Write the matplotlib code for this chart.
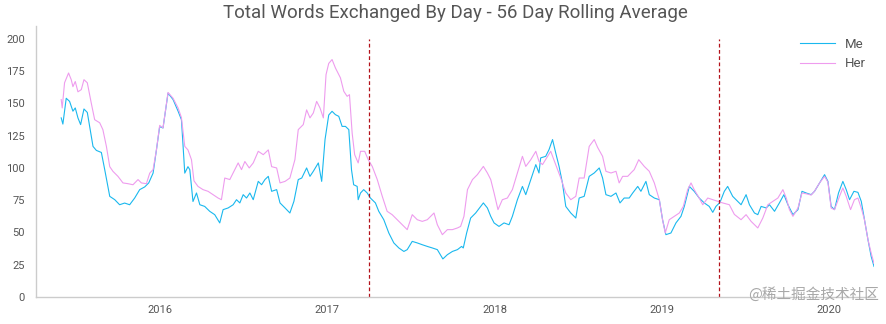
import matplotlib
matplotlib.use("Agg")
import matplotlib.pyplot as plt
import matplotlib.dates as mdates
import pandas as pd

# ---- data (decimal years, 56-day rolling average of words/day) ----
me_t = [2015.411, 2015.421, 2015.441, 2015.461, 2015.481, 2015.495, 2015.511, 2015.527, 2015.547, 2015.567,
        2015.581, 2015.601, 2015.621, 2015.651, 2015.671, 2015.701, 2015.731, 2015.760, 2015.790, 2015.820,
        2015.850, 2015.880, 2015.910, 2015.934, 2015.960, 2015.980, 2016.000, 2016.020, 2016.050, 2016.080,
        2016.110, 2016.130, 2016.150, 2016.169, 2016.180, 2016.199, 2016.220, 2016.240, 2016.269, 2016.299,
        2016.329, 2016.359, 2016.379, 2016.409, 2016.439, 2016.459, 2016.479, 2016.499, 2016.519, 2016.539,
        2016.559, 2016.589, 2016.609, 2016.629, 2016.649, 2016.669, 2016.699, 2016.719, 2016.749, 2016.778,
        2016.802, 2016.828, 2016.849, 2016.878, 2016.898, 2016.918, 2016.948, 2016.968, 2016.988, 2017.008,
        2017.028, 2017.048, 2017.068, 2017.088, 2017.108, 2017.128, 2017.144, 2017.157, 2017.178, 2017.184,
        2017.198, 2017.217, 2017.238, 2017.257, 2017.287, 2017.307, 2017.337, 2017.367, 2017.397, 2017.427,
        2017.457, 2017.477, 2017.507, 2017.537, 2017.567, 2017.597, 2017.627, 2017.657, 2017.690, 2017.717,
        2017.747, 2017.777, 2017.802, 2017.812, 2017.832, 2017.856, 2017.886, 2017.916, 2017.932, 2017.956,
        2017.976, 2017.996, 2018.026, 2018.056, 2018.086, 2018.106, 2018.136, 2018.166, 2018.186, 2018.216,
        2018.246, 2018.265, 2018.275, 2018.305, 2018.325, 2018.346, 2018.365, 2018.385, 2018.405, 2018.425,
        2018.455, 2018.485, 2018.505, 2018.535, 2018.565, 2018.595, 2018.625, 2018.645, 2018.665, 2018.695,
        2018.725, 2018.749, 2018.774, 2018.804, 2018.825, 2018.855, 2018.874, 2018.904, 2018.924, 2018.954,
        2018.984, 2019.004, 2019.024, 2019.054, 2019.084, 2019.114, 2019.134, 2019.164, 2019.193, 2019.223,
        2019.253, 2019.283, 2019.304, 2019.323, 2019.347, 2019.373, 2019.393, 2019.423, 2019.443, 2019.473,
        2019.503, 2019.523, 2019.553, 2019.573, 2019.593, 2019.623, 2019.643, 2019.673, 2019.702, 2019.729,
        2019.753, 2019.783, 2019.813, 2019.837, 2019.862, 2019.892, 2019.912, 2019.942, 2019.972, 2019.992,
        2020.012, 2020.032, 2020.056, 2020.082, 2020.102, 2020.122, 2020.148, 2020.172, 2020.192, 2020.211,
        2020.232, 2020.251, 2020.268]
me_v = [138.8, 134.0, 154.0, 151.6, 144.0, 146.5, 138.8, 133.6, 145.7, 143.0,
        132.0, 116.7, 113.6, 112.0, 98.7, 78.0, 75.4, 71.5, 72.8, 71.5,
        76.7, 83.2, 85.3, 88.4, 96.0, 114.0, 132.0, 131.0, 158.0, 153.0,
        144.0, 137.4, 96.0, 101.0, 98.7, 74.0, 80.6, 71.5, 70.2, 66.4,
        63.8, 57.4, 67.7, 69.0, 71.5, 75.4, 72.9, 79.3, 76.7, 80.6,
        75.4, 89.6, 87.0, 91.0, 93.5, 81.9, 83.2, 72.9, 69.0, 65.1,
        74.1, 91.0, 92.2, 100.0, 93.5, 97.4, 103.9, 89.6, 122.0, 141.0,
        143.9, 141.3, 140.0, 132.2, 132.2, 129.7, 98.7, 87.0, 85.7, 75.4,
        80.6, 83.2, 80.6, 76.7, 72.9, 66.4, 59.9, 49.6, 41.9, 38.0,
        35.3, 36.7, 43.1, 41.9, 40.5, 39.2, 38.0, 36.7, 29.5, 32.8,
        35.3, 36.7, 39.2, 38.0, 49.6, 61.2, 65.1, 70.2, 72.9, 69.0,
        62.5, 57.4, 54.7, 57.4, 56.0, 62.5, 75.4, 85.7, 79.3, 91.0,
        102.6, 96.1, 107.8, 109.0, 114.2, 122.0, 111.6, 101.2, 88.4, 70.2,
        65.1, 61.2, 76.7, 78.0, 93.5, 96.1, 100.0, 92.2, 79.3, 78.0,
        80.6, 72.9, 76.7, 76.7, 80.6, 85.7, 81.9, 89.6, 79.3, 76.7,
        75.4, 59.9, 48.3, 49.6, 57.4, 62.5, 70.2, 85.7, 81.9, 76.7,
        72.9, 70.2, 65.6, 70.2, 73.3, 81.9, 85.7, 78.0, 75.4, 71.5,
        79.3, 71.5, 65.1, 63.8, 70.2, 69.0, 71.5, 66.4, 72.9, 79.3,
        71.5, 63.8, 67.7, 81.9, 80.6, 79.3, 81.9, 88.4, 94.8, 89.6,
        70.2, 67.7, 80.6, 89.6, 83.2, 75.4, 81.9, 81.1, 74.1, 59.9,
        44.4, 31.5, 23.7]

her_t = [2015.411, 2015.417, 2015.431, 2015.455, 2015.471, 2015.481, 2015.495, 2015.511, 2015.531, 2015.547,
         2015.567, 2015.591, 2015.611, 2015.641, 2015.660, 2015.681, 2015.701, 2015.720, 2015.750, 2015.780,
         2015.810, 2015.840, 2015.870, 2015.890, 2015.920, 2015.940, 2015.960, 2015.980, 2016.000, 2016.020,
         2016.050, 2016.080, 2016.110, 2016.130, 2016.150, 2016.169, 2016.190, 2016.205, 2016.229, 2016.259,
         2016.289, 2016.319, 2016.349, 2016.369, 2016.389, 2016.419, 2016.449, 2016.469, 2016.489, 2016.509,
         2016.535, 2016.559, 2016.589, 2016.619, 2016.649, 2016.669, 2016.699, 2016.719, 2016.749, 2016.778,
         2016.808, 2016.828, 2016.858, 2016.878, 2016.898, 2016.918, 2016.938, 2016.958, 2016.978, 2016.994,
         2017.008, 2017.028, 2017.048, 2017.078, 2017.098, 2017.118, 2017.132, 2017.148, 2017.163, 2017.184,
         2017.198, 2017.223, 2017.244, 2017.268, 2017.298, 2017.328, 2017.357, 2017.387, 2017.417, 2017.447,
         2017.477, 2017.507, 2017.537, 2017.567, 2017.597, 2017.637, 2017.657, 2017.687, 2017.717, 2017.747,
         2017.777, 2017.796, 2017.816, 2017.837, 2017.867, 2017.896, 2017.932, 2017.956, 2017.976, 2017.996,
         2018.020, 2018.046, 2018.076, 2018.106, 2018.136, 2018.166, 2018.186, 2018.216, 2018.246, 2018.265,
         2018.286, 2018.316, 2018.335, 2018.365, 2018.395, 2018.425, 2018.455, 2018.485, 2018.505, 2018.535,
         2018.565, 2018.595, 2018.615, 2018.645, 2018.665, 2018.695, 2018.725, 2018.744, 2018.765, 2018.795,
         2018.814, 2018.834, 2018.861, 2018.894, 2018.924, 2018.954, 2018.984, 2019.004, 2019.020, 2019.044,
         2019.074, 2019.104, 2019.128, 2019.154, 2019.174, 2019.193, 2019.223, 2019.244, 2019.274, 2019.304,
         2019.334, 2019.363, 2019.403, 2019.433, 2019.473, 2019.503, 2019.533, 2019.573, 2019.603, 2019.633,
         2019.663, 2019.693, 2019.723, 2019.743, 2019.762, 2019.783, 2019.813, 2019.837, 2019.862, 2019.892,
         2019.912, 2019.942, 2019.972, 2019.992, 2020.012, 2020.032, 2020.062, 2020.082, 2020.102, 2020.128,
         2020.151, 2020.172, 2020.192, 2020.211, 2020.232, 2020.251, 2020.268]
her_v = [153.0, 146.5, 166.0, 173.6, 168.4, 163.0, 167.0, 159.0, 160.7, 168.4,
         166.0, 150.0, 137.4, 135.0, 129.7, 116.7, 101.0, 97.4, 93.5, 88.4,
         87.8, 87.0, 91.0, 88.4, 87.8, 96.0, 98.7, 114.0, 133.0, 131.0,
         158.5, 154.0, 146.5, 139.0, 116.7, 114.0, 106.4, 90.0, 85.7, 83.2,
         81.9, 79.3, 76.7, 75.4, 92.2, 91.0, 98.7, 103.9, 98.7, 105.0,
         100.0, 103.9, 112.9, 110.3, 114.0, 101.0, 100.0, 88.4, 89.6, 92.2,
         106.4, 129.7, 133.6, 145.0, 138.8, 142.6, 151.6, 146.5, 138.8, 172.3,
         181.0, 184.0, 177.5, 169.8, 159.4, 155.5, 156.8, 127.0, 110.3, 103.9,
         112.9, 112.9, 106.4, 101.2, 91.0, 78.0, 66.4, 63.8, 59.9, 56.0,
         52.2, 63.8, 59.9, 58.6, 59.9, 65.1, 56.0, 48.3, 52.2, 52.2,
         53.5, 54.7, 62.5, 83.2, 91.0, 94.8, 101.2, 96.1, 91.0, 80.6,
         67.7, 75.4, 76.7, 83.2, 96.1, 109.0, 101.2, 106.4, 112.9, 105.1,
         102.6, 109.0, 112.9, 102.6, 92.2, 80.6, 75.4, 78.0, 92.2, 92.2,
         116.7, 122.0, 116.0, 109.0, 97.4, 96.1, 97.4, 88.4, 93.5, 93.5,
         96.1, 98.7, 106.4, 101.2, 97.4, 88.4, 75.4, 59.9, 49.6, 59.9,
         62.5, 65.1, 70.2, 83.2, 88.4, 83.2, 76.7, 71.5, 76.7, 75.4,
         74.1, 72.9, 71.5, 64.0, 59.9, 63.8, 58.6, 53.5, 61.2, 71.5,
         74.1, 76.7, 83.2, 76.7, 67.7, 62.5, 69.0, 80.6, 80.0, 79.0,
         82.0, 88.4, 93.5, 89.0, 68.9, 67.7, 78.0, 84.5, 78.0, 67.7,
         75.4, 76.7, 68.9, 59.9, 44.4, 34.1, 26.0]

event_t = [2017.250, 2019.340]
y_ticks = [0, 25, 50, 75, 100, 125, 150, 175, 200]
title = "Total Words Exchanged By Day - 56 Day Rolling Average"


def to_dates(ts):
    out = []
    for t in ts:
        y = int(t)
        out.append(pd.Timestamp(year=y, month=1, day=1) + pd.Timedelta(days=(t - y) * 365.25))
    return pd.DatetimeIndex(out)


me_d = to_dates(me_t)
her_d = to_dates(her_t)
ev_d = to_dates(event_t)

plt.rcParams['font.family'] = ['Roboto', 'Noto Sans CJK SC', 'DejaVu Sans']
TXT = '#555555'

fig = plt.figure(figsize=(8.86, 3.24), dpi=100)
ax = fig.add_axes([36 / 886, 27 / 324, (874 - 36) / 886, (297 - 26) / 324])

ax.plot(me_d, me_v, color='#1ab8ee', lw=0.8, label='Me')
ax.plot(her_d, her_v, color='#ee9cee', lw=0.8, label='Her')
ax.vlines(ev_d, 0, 200, colors='#b3111a', linestyles=(0, (3, 2)), lw=0.9)

ax.set_xlim(me_d[0] - pd.Timedelta(days=55), me_d[-1])
ax.set_ylim(0, 210)
ax.set_yticks(y_ticks)
ax.xaxis.set_major_locator(mdates.YearLocator())
ax.xaxis.set_major_formatter(mdates.DateFormatter('%Y'))
ax.tick_params(length=0, labelsize=8, colors=TXT, pad=6)
ax.tick_params(axis='y', pad=8)
for s in ['top', 'right']:
    ax.spines[s].set_visible(False)
for s in ['left', 'bottom']:
    ax.spines[s].set_color('#cccccc')
    ax.spines[s].set_linewidth(1.0)

ax.set_title(title, fontsize=13.5, color=TXT, pad=6)
leg = ax.legend(loc='upper right', frameon=False, fontsize=9.5, handlelength=2.6,
                bbox_to_anchor=(1.005, 1.0), labelspacing=0.5)
for t in leg.get_texts():
    t.set_color(TXT)

fig.text(0.992, 296 / 324 * 0 + (324 - 294) / 324, "@稀土掘金技术社区", ha='right', va='center',
         fontsize=10.5, color='#a8a8a8', family=['Noto Sans CJK SC', 'DejaVu Sans'])

fig.savefig('out.png', dpi=100)
